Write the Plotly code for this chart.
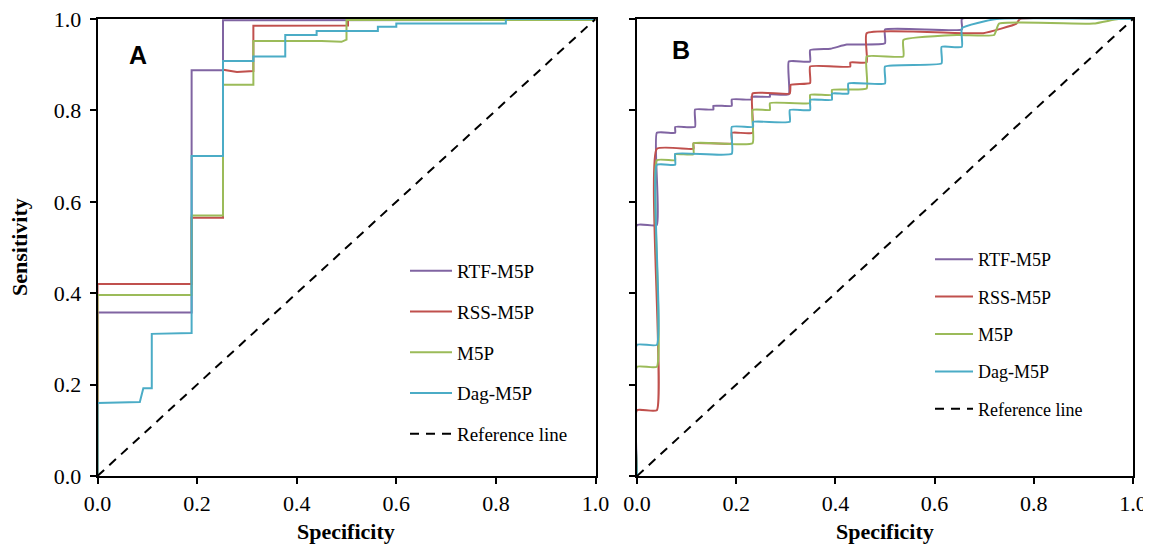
import plotly.graph_objects as go

# ---------------- Data ----------------
series_names = ["RTF-M5P", "RSS-M5P", "M5P", "Dag-M5P"]
series_colors = ["#8064A2", "#C0504D", "#9BBB59", "#4BACC6"]
ref_name = "Reference line"
ref_x = [0, 1]
ref_y = [0, 1]

# Panel A
a_rtf_x = [0, 0, 0.189, 0.189, 0.252, 0.252, 1.0]
a_rtf_y = [0, 0.358, 0.358, 0.888, 0.888, 0.997, 0.998]

a_rss_x = [0, 0, 0.189, 0.189, 0.252, 0.252, 0.28, 0.313, 0.313, 0.503, 0.503, 1.0]
a_rss_y = [0, 0.420, 0.420, 0.565, 0.565, 0.889, 0.884, 0.886, 0.985, 0.986, 0.998, 0.998]

a_m5p_x = [0, 0, 0.189, 0.189, 0.252, 0.252, 0.313, 0.313, 0.45, 0.49, 0.500, 0.500, 1.0]
a_m5p_y = [0, 0.396, 0.396, 0.570, 0.570, 0.856, 0.856, 0.952, 0.952, 0.950, 0.955, 0.998, 0.998]

a_dag_x = [0, 0, 0.085, 0.092, 0.109, 0.109, 0.189, 0.189, 0.252, 0.252, 0.313, 0.313, 0.377, 0.377,
           0.44, 0.44, 0.563, 0.563, 0.60, 0.60, 0.82, 0.82, 1.0]
a_dag_y = [0, 0.160, 0.162, 0.192, 0.192, 0.311, 0.313, 0.700, 0.700, 0.908, 0.908, 0.918, 0.918, 0.965,
           0.965, 0.974, 0.974, 0.983, 0.983, 0.990, 0.990, 1.0, 1.0]

# Panel B
b_rtf_x = [0, 0, 0.040, 0.040, 0.077, 0.077, 0.117, 0.117, 0.154, 0.154, 0.191, 0.191, 0.231, 0.231,
           0.268, 0.268, 0.306, 0.306, 0.349, 0.349, 0.39, 0.423, 0.500, 0.500, 0.655, 0.655, 1.0]
b_rtf_y = [0, 0.549, 0.549, 0.751, 0.751, 0.764, 0.764, 0.802, 0.802, 0.810, 0.810, 0.824, 0.824, 0.830,
           0.830, 0.835, 0.835, 0.907, 0.907, 0.932, 0.935, 0.944, 0.947, 0.977, 0.977, 1.0, 1.0]

b_rss_x = [0, 0, 0.040, 0.040, 0.114, 0.114, 0.191, 0.191, 0.233, 0.233, 0.308, 0.310, 0.349, 0.349,
           0.430, 0.430, 0.463, 0.463, 0.698, 0.765, 0.772, 1.0]
b_rss_y = [0, 0.144, 0.144, 0.716, 0.716, 0.728, 0.728, 0.751, 0.751, 0.837, 0.837, 0.856, 0.860, 0.896,
           0.896, 0.905, 0.905, 0.969, 0.969, 0.990, 1.0, 1.0]

b_m5p_x = [0, 0, 0.040, 0.040, 0.077, 0.077, 0.114, 0.114, 0.233, 0.233, 0.268, 0.268, 0.349, 0.349,
           0.393, 0.393, 0.463, 0.463, 0.537, 0.537, 0.647, 0.720, 0.730, 0.920, 0.970, 1.0]
b_m5p_y = [0, 0.239, 0.239, 0.691, 0.691, 0.704, 0.704, 0.728, 0.728, 0.801, 0.801, 0.816, 0.816, 0.834,
           0.834, 0.845, 0.848, 0.918, 0.918, 0.954, 0.965, 0.965, 0.990, 0.990, 1.0, 1.0]

b_dag_x = [0, 0, 0.040, 0.040, 0.077, 0.077, 0.191, 0.191, 0.234, 0.234, 0.308, 0.308, 0.349, 0.349,
           0.393, 0.393, 0.426, 0.426, 0.500, 0.500, 0.614, 0.614, 0.655, 0.655, 0.725, 1.0]
b_dag_y = [0, 0.287, 0.287, 0.681, 0.681, 0.705, 0.705, 0.764, 0.764, 0.775, 0.775, 0.801, 0.801, 0.823,
           0.823, 0.837, 0.837, 0.859, 0.859, 0.896, 0.903, 0.939, 0.939, 0.980, 1.0, 1.0]

panel_a = [(a_rtf_x, a_rtf_y), (a_rss_x, a_rss_y), (a_m5p_x, a_m5p_y), (a_dag_x, a_dag_y)]
panel_b = [(b_rtf_x, b_rtf_y), (b_rss_x, b_rss_y), (b_m5p_x, b_m5p_y), (b_dag_x, b_dag_y)]

tick_vals = [0, 0.2, 0.4, 0.6, 0.8, 1.0]
tick_text = ["0.0", "0.2", "0.4", "0.6", "0.8", "1.0"]

SERIF = "Liberation Serif, Times New Roman, serif"
SANS = "Liberation Sans, Arial, sans-serif"

fig = go.Figure()

for i, (xs, ys) in enumerate(panel_a):
    fig.add_trace(go.Scatter(x=xs, y=ys, mode="lines", name=series_names[i],
                             line=dict(color=series_colors[i], width=2),
                             xaxis="x", yaxis="y", legend="legend", legendgroup="a%d" % i))
fig.add_trace(go.Scatter(x=ref_x, y=ref_y, mode="lines", name=ref_name,
                         line=dict(color="black", width=2, dash="9px,7px"),
                         xaxis="x", yaxis="y", legend="legend", legendgroup="a4"))

for i, (xs, ys) in enumerate(panel_b):
    fig.add_trace(go.Scatter(x=xs, y=ys, mode="lines", name=series_names[i],
                             line=dict(color=series_colors[i], width=2, shape="spline", smoothing=0.4),
                             xaxis="x2", yaxis="y2", legend="legend2", legendgroup="b%d" % i))
fig.add_trace(go.Scatter(x=ref_x, y=ref_y, mode="lines", name=ref_name,
                         line=dict(color="black", width=2, dash="9px,7px"),
                         xaxis="x2", yaxis="y2", legend="legend2", legendgroup="b4"))

W, H = 1151, 546
OFF = 8  # page body offset of the plot div, in px


def px(x):
    return (x - OFF) / W


def py(y):
    return 1 - (y - OFF) / H


ydom = [py(476), py(19)]

axis_common = dict(range=[0, 1], showgrid=False, zeroline=False, showline=True, linecolor="black",
                   linewidth=1.5, mirror=True, ticks="outside", ticklen=6, tickwidth=1.5,
                   tickcolor="black", tickvals=tick_vals, ticktext=tick_text, automargin=False,
                   ticklabeloverflow="allow",
                   tickfont=dict(family=SERIF, size=22, color="black"))

fig.update_layout(
    width=W, height=H,
    margin=dict(l=0, r=0, t=0, b=0, pad=0, autoexpand=False),
    paper_bgcolor="white", plot_bgcolor="white",
    xaxis=dict(domain=[px(97.5), px(595.5)], anchor="y", ticklabelstandoff=1, **axis_common),
    yaxis=dict(domain=ydom, anchor="x", ticklabelstandoff=4, **axis_common),
    xaxis2=dict(domain=[px(637), px(1133)], anchor="y2", ticklabelstandoff=1, **axis_common),
    yaxis2=dict(domain=ydom, anchor="x2", showticklabels=False,
                **{k: v for k, v in axis_common.items() if k != "tickfont"}),
    legend=dict(x=px(405), y=py(252), xanchor="left", yanchor="top", itemwidth=42,
                font=dict(family=SERIF, size=19, color="black"), bgcolor="rgba(0,0,0,0)",
                tracegroupgap=13, traceorder="grouped"),
    legend2=dict(x=px(930), y=py(241), xanchor="left", yanchor="top", itemwidth=38,
                 font=dict(family=SERIF, size=18, color="black"), bgcolor="rgba(0,0,0,0)",
                 tracegroupgap=11, traceorder="grouped"),
    showlegend=True,
)

ann_common = dict(xref="paper", yref="paper", showarrow=False, xanchor="center", yanchor="middle")
annotations = [
    dict(text="<b>Specificity</b>", x=px(346), y=py(531),
         font=dict(family=SERIF, size=22, color="black"), **ann_common),
    dict(text="<b>Specificity</b>", x=px(885), y=py(531),
         font=dict(family=SERIF, size=22, color="black"), **ann_common),
    dict(text="<b>Sensitivity</b>", x=px(19), y=py(247), textangle=-90,
         font=dict(family=SERIF, size=22, color="black"), **ann_common),
    dict(text="<b>A</b>", x=px(138), y=py(55),
         font=dict(family=SANS, size=25, color="black"), **ann_common),
    dict(text="<b>B</b>", x=px(681), y=py(50),
         font=dict(family=SANS, size=25, color="black"), **ann_common),
]
fig.update_layout(annotations=annotations)

fig.write_html("out.html")
